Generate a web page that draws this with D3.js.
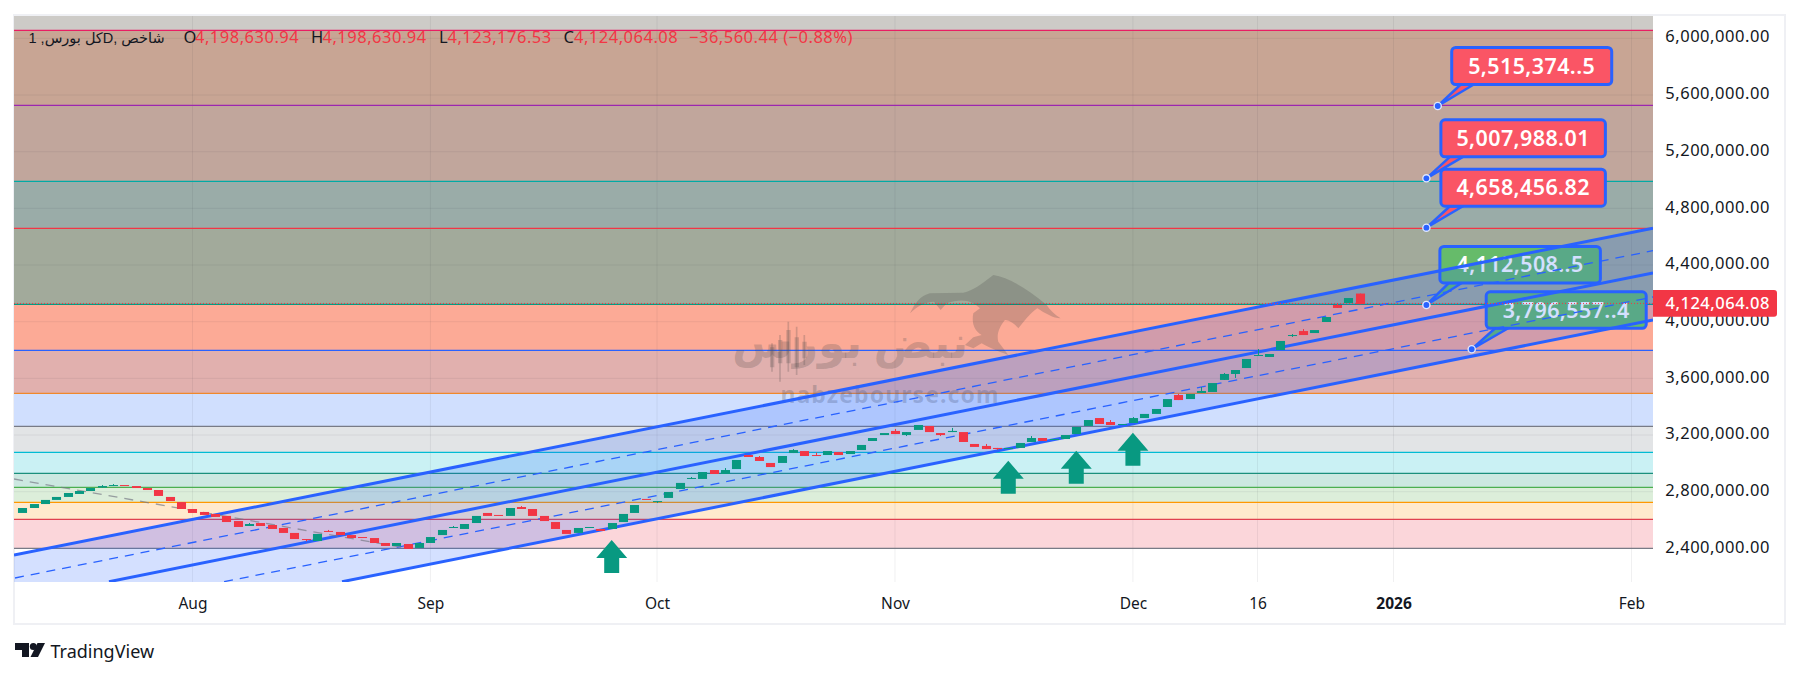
<!DOCTYPE html>
<html><head><meta charset="utf-8">
<script src="https://cdn.jsdelivr.net/npm/d3@7"></script>
<style>html,body{margin:0;padding:0;background:#fff}svg{display:block}
text{font-family:"Noto Sans","DejaVu Sans",sans-serif}</style></head>
<body><div id="chart"></div>
<script>
// ---------- data (prices in thousands unless noted, bars indexed by trading day) ----------
const barOpen = [2650,2685,2713,2742,2763,2784,2805,2829,2840,2847,
 2840,2826,2812,2763,2727,2678,2657,2643,2629,2593,
 2558,2579,2565,2544,2509,2466,2452,2523,2516,2494,
 2480,2473,2438,2417,2431,2403,2438,2494,2544,2537,
 2579,2650,2636,2629,2692,2678,2629,2586,2530,2509,
 2544,2537,2537,2586,2650,2749,2727,2756,2819,2890,
 2890,2953,2925,2960,3059,3045,3003,3003,3073,3087,
 3059,3059,3080,3066,3094,3158,3200,3229,3200,3236,
 3264,3214,3221,3221,3137,3123,3109,3101,3109,3151,
 3179,3165,3172,3207,3264,3320,3292,3271,3285,3320,
 3349,3398,3483,3454,3497,3504,3589,3631,3673,3758,
 3751,3800,3899,3934,3920,3998,4118,4132,4198.63];
const barClose = [2685,2713,2742,2763,2791,2805,2826,2840,2847,2840,
 2826,2812,2770,2734,2678,2650,2636,2622,2586,2551,
 2572,2558,2537,2509,2466,2459,2502,2516,2494,2473,
 2473,2438,2417,2438,2396,2438,2480,2530,2551,2572,
 2629,2629,2629,2685,2678,2629,2593,2537,2502,2544,
 2551,2523,2579,2643,2706,2742,2734,2798,2862,2897,
 2939,2925,2953,3024,3045,3017,2974,3052,3094,3052,
 3052,3087,3059,3087,3130,3179,3214,3207,3221,3271,
 3221,3200,3229,3151,3116,3101,3101,3109,3144,3179,
 3158,3172,3200,3257,3306,3278,3271,3278,3320,3349,
 3384,3454,3447,3490,3511,3567,3631,3659,3737,3765,
 3772,3864,3906,3906,3941,4033,4097,4167,4124.06];
const upperWicks = [[7,2847],[8,2854],[20,2579],[27,2530],[38,2558],[44,2699],[59,2904],[62,2967],[65,3052],[68,3101],[70,3076],[77,3243],[82,3250],[85,3137],[89,3193],[96,3306],[98,3327],[102,3490],[104,3539],[106,3638],[109,3807],[112,3913],[113,3948],[116,4130]];
const lowerWicks = [[25,2450],[56,2720],[78,3193],[81,3193],[86,3094],[107,3603],[112,3892],[118,4123.18]];

const levelPrices = [6056800,5527450,4991000,4659250,4122800,3798130,3494600,3261700,3078200,2929950,2831150,2725250,2605250,2400550];
const lastClose = 4124064.08;

const priceTicks = [6000000,5600000,5200000,4800000,4400000,4000000,3600000,3200000,2800000,2400000];
const timeTickBars = [15,36,56,77,98,109,121,142];
const timeTickLabels = ["Aug","Sep","Oct","Nov","Dec","16","2026","Feb"];

// channel lines: [bar, price] pairs
const channelUpper = [[-0.75,2353300],[143.9,4659300]];
const channelMidUpper = [[-0.66,2191000],[143.9,4501200]];
const channelCenter = [[7.63,2164800],[143.9,4343800]];
const channelMidLower = [[17.79,2164800],[143.9,4174400]];
const channelLower = [[28.2,2164800],[143.9,4012000]];
const trendGray = [[-0.75,2889700],[33.8,2402700]];

const arrowBars = [52,87,93,98];
const arrowPrices = [2459200,3018900,3089500,3216400];

const calloutLabels = ["5,515,374..5","5,007,988.01","4,658,456.82","4,112,508..5","3,796,557..4"];
const calloutBars = [124.9,123.9,123.9,123.9,127.9];
const calloutPrices = [5522500,5012200,4663500,4118000,3805400];

const legendItems = [["O","4,198,630.94"],["H","4,198,630.94"],["L","4,123,176.53"],["C","4,124,064.08"]];
const legendChange = "\u221236,560.44 (\u22120.88%)";
const legendTitle = "1 ,\u06A9\u0644 \u0628\u0648\u0631\u0633D, \u0634\u0627\u062E\u0635";

// ---------- styles / layout ----------
const W=1800,H=677, L=14,R=1653,T=16,B=582;
const GREEN="#089981",RED="#f23645",BLUE="#2962ff",INK="#131722";
const levelColors=["#e91e63","#9c27b0","#00aaa5","#f23645","#089981","#2962ff","#f0882c","#787b86","#00bcd4","#1b8f7c","#4caf50","#ff9800","#e0404f","#787b86"];
const bandColors=["rgb(205,203,199)","rgb(200,165,148)","rgb(193,166,156)","rgb(154,172,168)","rgb(162,170,155)","rgb(252,170,150)","rgb(225,176,174)","rgb(208,223,254)","rgb(226,228,230)","rgb(202,241,244)","rgb(204,232,225)","rgb(220,238,218)","rgb(255,233,205)","rgb(251,214,218)"];
const calloutBox=[[14,-58.5,160,37],[14.5,-58.5,164.5,37],[14.5,-58.5,164.5,37],[13.5,-58.5,160.5,36.5],[14.5,-57.5,160,36.5]];
const calloutFill=["#fa5565","#fa5565","#fa5565","#66bb6a","#66bb6a"];

const x=d3.scaleLinear().domain([-0.75,143.9]).range([L,R]);
const y=d3.scaleLinear().domain([2162700,6157800]).range([B,T]);
const step=x(1)-x(0);

const svg=d3.select("#chart").append("svg").attr("width",W).attr("height",H).attr("viewBox",[0,0,W,H]);
svg.append("rect").attr("x",14).attr("y",15).attr("width",1771).attr("height",609).attr("fill","#fff").attr("stroke","#eff0f4").attr("stroke-width",2);
svg.append("defs").append("clipPath").attr("id","plot").append("rect").attr("x",L).attr("y",T).attr("width",R-L).attr("height",B-T);
const plot=svg.append("g").attr("clip-path","url(#plot)");

// bands
const bandEdges=[6157800,...levelPrices];
plot.append("g").selectAll("rect").data(levelPrices).join("rect")
 .attr("x",L).attr("width",R-L)
 .attr("y",(d,i)=>y(bandEdges[i])).attr("height",(d,i)=>y(d)-y(bandEdges[i]))
 .attr("fill",(d,i)=>bandColors[i]);

// grid
const grid=plot.append("g").attr("stroke","rgba(42,46,57,0.07)").attr("stroke-width",1);
grid.selectAll(".v").data(timeTickBars).join("line").attr("x1",d=>x(d)).attr("x2",d=>x(d)).attr("y1",T).attr("y2",B);
grid.selectAll(".h").data(priceTicks).join("line").attr("x1",L).attr("x2",R).attr("y1",d=>y(d)).attr("y2",d=>y(d));

// level lines
plot.append("g").selectAll("line").data(levelPrices).join("line")
 .attr("x1",L).attr("x2",R).attr("y1",d=>y(d)).attr("y2",d=>y(d))
 .attr("stroke",(d,i)=>levelColors[i]).attr("stroke-width",1.3);

// callouts
function drawCallout(g,i){
 const ax=x(calloutBars[i]),ay=y(calloutPrices[i]);
 const [dx,dy,w,h]=calloutBox[i];
 const bx=ax+dx,by=ay+dy;
 g.append("path").attr("d",`M${ax},${ay}L${bx+9},${by+h}L${bx+22},${by+h}Z`)
  .attr("fill",calloutFill[i]).attr("stroke",BLUE).attr("stroke-width",2.5).attr("stroke-linejoin","round");
 g.append("rect").attr("x",bx).attr("y",by).attr("width",w).attr("height",h).attr("rx",4)
  .attr("fill",calloutFill[i]).attr("stroke",BLUE).attr("stroke-width",3);
 g.append("text").attr("x",bx+w/2).attr("y",by+h/2).attr("dy","0.35em").attr("text-anchor","middle")
  .attr("fill","#fff").attr("font-size",21.5).attr("letter-spacing",0.4).attr("font-weight",600).text(calloutLabels[i]);
}
function drawDot(g,i){
 g.append("circle").attr("cx",x(calloutBars[i])).attr("cy",y(calloutPrices[i])).attr("r",3.6)
  .attr("fill",BLUE).attr("stroke","#dfe7ff").attr("stroke-width",1.4);
}
const greenCallouts=plot.append("g");
[3,4].forEach(i=>drawCallout(greenCallouts,i));

// watermark
const wm=plot.append("g").attr("pointer-events","none");
wm.append("path").attr("transform","translate(680,260) scale(0.3333)")
 .attr("d","M690,160 C705,130 720,108 750,100 L850,98 C880,92 905,72 940,45 C985,52 1040,85 1100,135 C1110,150 1125,165 1142,175 C1120,175 1095,160 1072,145 C1050,160 1032,185 1015,205 C1008,195 990,180 975,180 C955,205 950,225 955,245 L985,285 C955,275 925,262 905,250 L880,265 L855,255 L880,232 L905,225 C880,210 875,185 880,160 L900,145 C880,125 850,112 800,130 L782,150 L762,125 C735,125 710,140 690,160 Z")
 .attr("fill","rgba(70,70,70,0.24)");
wm.append("text").attr("x",850).attr("y",358).attr("text-anchor","middle").attr("direction","rtl")
 .attr("font-family","DejaVu Sans").attr("font-weight",700).attr("font-size",44).attr("fill","rgba(90,80,80,0.26)")
 .text("\u0646\u0628\u0636 \u0628\u0648\u0631\u0633");
// small candlestick glyph inside the watermark wordmark
wm.append("path").attr("transform","translate(680,260) scale(0.3333)")
 .attr("d","M276,250V335 M300,225V365 M325,185V335 M350,200V345 M373,225V315")
 .attr("fill","none").attr("stroke","rgba(90,80,80,0.26)").attr("stroke-width",5);
wm.append("path").attr("transform","translate(680,260) scale(0.3333)")
 .attr("d","M270,262h13v60h-13z M294,240h13v70h-13z M319,210h13v100h-13z M344,232h13v90h-13z M367,245h13v50h-13z")
 .attr("fill","rgba(90,80,80,0.26)");
wm.append("text").attr("x",890).attr("y",403).attr("text-anchor","middle").attr("font-weight",700).attr("font-size",23)
 .attr("letter-spacing",1.1).attr("fill","rgba(85,85,95,0.28)").text("nabzebourse.com");

// channel fill + lines
const line=d3.line().x(d=>x(d[0])).y(d=>y(d[1]));
const bandPath=(a,b)=>line(a)+"L"+[...b].reverse().map(d=>x(d[0])+","+y(d[1])).join("L")+"Z";
const fillAt=(a,b)=>{ // extend lines to the plot edges through the same slope
 const ext=l=>{const s=(l[1][1]-l[0][1])/(l[1][0]-l[0][0]);return [[-0.75,l[1][1]+s*(-0.75-l[1][0])],l[1]];};
 return bandPath(ext(a),ext(b));};
plot.append("path").attr("d",fillAt(channelUpper,channelCenter)).attr("fill","rgba(41,98,255,0.2)");
plot.append("path").attr("d",fillAt(channelCenter,channelLower)).attr("fill","rgba(41,98,255,0.2)");
[channelUpper,channelCenter,channelLower].forEach(l=>plot.append("path").attr("d",line(l)).attr("fill","none").attr("stroke",BLUE).attr("stroke-width",3));
[channelMidUpper,channelMidLower].forEach(l=>plot.append("path").attr("d",line(l)).attr("fill","none").attr("stroke",BLUE).attr("stroke-width",1.3).attr("stroke-dasharray","9,7"));
plot.append("path").attr("d",line(trendGray)).attr("fill","none").attr("stroke","rgba(120,123,134,0.7)").attr("stroke-width",1.3).attr("stroke-dasharray","9,7");

// candles
const bars=barOpen.map((o,i)=>({i,o:o*1000,c:barClose[i]*1000}));
upperWicks.forEach(([i,v])=>bars[i].h=v*1000);
lowerWicks.forEach(([i,v])=>bars[i].l=v*1000);
const candles=plot.append("g");
candles.selectAll("line").data(bars.filter(b=>b.h||b.l)).join("line")
 .attr("x1",b=>Math.round(x(b.i))+0.5).attr("x2",b=>Math.round(x(b.i))+0.5)
 .attr("y1",b=>y(b.h||Math.max(b.o,b.c))).attr("y2",b=>y(b.l||Math.min(b.o,b.c)))
 .attr("stroke",b=>b.c>=b.o?GREEN:RED).attr("stroke-width",1);
candles.selectAll("rect").data(bars).join("rect")
 .attr("x",b=>Math.round(x(b.i))+0.5-step*0.4).attr("width",step*0.8)
 .attr("y",b=>y(Math.max(b.o,b.c))).attr("height",b=>Math.max(1,Math.abs(y(b.o)-y(b.c))))
 .attr("fill",b=>b.c>=b.o?GREEN:RED);

// last-price dotted line
plot.append("line").attr("x1",L).attr("x2",R).attr("y1",y(lastClose)-0.7).attr("y2",y(lastClose)-0.7)
 .attr("stroke",RED).attr("stroke-width",1).attr("stroke-dasharray","1,2");

// arrows
const arrows=plot.append("g").attr("fill",GREEN);
arrows.selectAll("path").data(arrowBars).join("path")
 .attr("d",(d,i)=>{const cx=x(d),ty=y(arrowPrices[i]);
   return `M${cx},${ty}L${cx+15.5},${ty+18}L${cx+7.5},${ty+18}L${cx+7.5},${ty+33}L${cx-7.5},${ty+33}L${cx-7.5},${ty+18}L${cx-15.5},${ty+18}Z`;});

// red callouts + anchors
const topCallouts=plot.append("g");
[0,1,2].forEach(i=>drawCallout(topCallouts,i));
[0,1,2,3,4].forEach(i=>drawDot(topCallouts,i));

// axes
const ay=svg.append("g").attr("transform",`translate(${R},0)`)
 .call(d3.axisRight(y).tickValues(priceTicks).tickSize(0).tickFormat(d=>d3.format(",.2f")(d)));
ay.select(".domain").remove();
ay.selectAll("text").attr("x",117).attr("dy","0.22em").attr("text-anchor","end").attr("font-size",16.5).attr("letter-spacing",0.55).attr("fill",INK)
 .style("font-family",'"Noto Sans"');
const ax=svg.append("g").attr("transform",`translate(0,${B})`)
 .call(d3.axisBottom(x).tickValues(timeTickBars).tickSize(0).tickFormat((d,i)=>timeTickLabels[i]));
ax.select(".domain").remove();
ax.selectAll("text").attr("y",22).attr("dy","0.35em").attr("font-size",15.5).attr("fill",INK)
 .attr("font-weight",d=>d===121?700:400).style("font-family",'"Noto Sans"');

// price tag
svg.append("path").attr("d",`M${R},290H1774a3,3 0 0 1 3,3V313.7a3,3 0 0 1 -3,3H${R}Z`).attr("fill",RED);
svg.append("text").attr("x",1770).attr("y",303.4).attr("dy","0.35em").attr("text-anchor","end").attr("fill","#fff").attr("font-size",16.5).attr("letter-spacing",0.5).attr("font-weight",500)
 .text(d3.format(",.2f")(lastClose));

// legend
const lg=svg.append("g").attr("font-size",16.5).attr("letter-spacing",0.5);
lg.append("text").attr("x",28.5).attr("y",43).attr("fill",INK).attr("font-size",14.5).attr("letter-spacing",0).attr("direction","ltr").style("font-family",'"Liberation Sans","DejaVu Sans"').text(legendTitle);
const legendX=[183.5,311,439,563.5],legendVX=[195,322.5,447.5,574];
legendItems.forEach((d,i)=>{
 lg.append("text").attr("x",legendX[i]).attr("y",43).attr("fill",INK).text(d[0]);
 lg.append("text").attr("x",legendVX[i]).attr("y",43).attr("fill",RED).text(d[1]);
});
lg.append("text").attr("x",689).attr("y",43).attr("fill",RED).text(legendChange);

// logo
const logo=svg.append("g").attr("fill",INK);
logo.append("path").attr("d","M15,643H29V657H22V650H15Z");
logo.append("circle").attr("cx",33.3).attr("cy",646.5).attr("r",3.5);
logo.append("path").attr("d","M37.5,643H45L38,657H30.5Z");
svg.append("text").attr("x",50.5).attr("y",658).attr("font-size",18).attr("fill",INK).text("TradingView");
</script></body></html>
